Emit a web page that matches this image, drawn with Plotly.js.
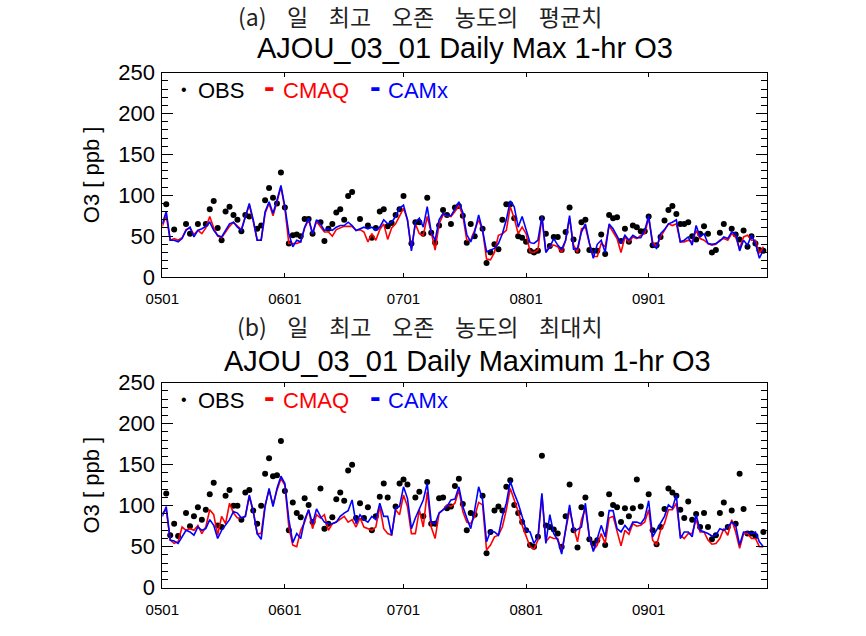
<!DOCTYPE html>
<html>
<head>
<meta charset="utf-8">
<script src="https://cdn.plot.ly/plotly-3.0.1.min.js"></script>
<style>html,body{margin:0;padding:0;background:#fff;}#chart{width:866px;height:636px;}</style>
</head>
<body>
<div id="chart"></div>
<script>
// ---- data (daily, 1 May .. 30 Sep) ----
const startDate = '2015-05-01';
const nDays = 153;
const tickDates = ['2015-05-01','2015-06-01','2015-07-01','2015-08-01','2015-09-01'];
const tickLabels = ['0501','0601','0701','0801','0901'];
const yTicks = [0,50,100,150,200,250];

// (a) Daily max 1-hr O3, averaged
const obsA = [
 null,89,null,58,null,null,65,53,null,65,
 null,65,83,93,60,45,80,86,76,70,
 56,76,74,null,59,63,94,109,97,90,
 128,85,41,51,52,50,71,71,53,null,
 67,44,59,65,79,83,70,99,104,null,
 71,null,63,48,60,80,83,62,66,76,
 83,99,null,41,67,67,53,97,54,42,
 63,82,76,65,85,87,75,42,65,50,
 null,59,17,30,40,34,70,89,89,72,
 50,48,43,32,30,32,72,53,38,49,
 49,33,55,85,46,32,67,70,33,32,
 32,52,28,76,72,73,44,59,43,63,
 61,56,56,74,39,39,49,69,82,87,
 77,65,65,67,50,46,53,62,53,30,
 33,54,65,null,59,52,46,57,37,50,
 41,33,32];
const cmaqA = [
 62,75,45,47,45,48,58,60,52,57,
 53,60,74,60,50,48,55,62,67,62,
 58,74,88,68,45,45,78,90,75,92,
 110,84,41,41,41,43,60,70,53,68,
 62,55,55,50,58,60,62,62,62,57,
 58,55,43,53,45,58,65,46,60,65,
 75,84,70,35,65,53,51,74,55,33,
 65,76,75,74,80,88,75,45,45,58,
 70,57,22,21,30,51,53,57,86,72,
 53,61,53,31,30,33,74,31,37,39,
 37,30,45,72,39,30,59,61,41,25,
 25,41,37,63,55,47,30,49,43,49,
 47,51,53,72,43,37,49,57,65,63,
 65,43,43,45,43,57,47,45,41,39,
 40,45,47,45,53,49,35,49,51,45,
 45,29,37];
const camxA = [
 65,80,45,45,43,47,57,61,49,57,
 59,62,67,57,51,49,57,65,67,61,
 57,74,90,70,45,45,80,92,78,94,
 112,86,53,37,45,43,61,72,53,70,
 65,57,59,57,61,63,63,67,63,57,
 59,61,59,61,57,61,70,65,67,74,
 84,88,70,32,67,72,61,86,55,45,
 70,78,75,75,83,92,79,52,43,55,
 76,57,31,33,35,41,53,70,93,86,
 61,74,57,42,41,45,74,30,37,47,
 39,34,45,75,34,35,55,65,42,23,
 40,45,30,65,59,49,41,51,45,51,
 48,48,57,75,39,35,53,58,65,67,
 70,43,45,49,39,63,49,53,41,40,
 41,44,49,47,55,53,32,45,39,51,
 41,23,33];

// (b) Daily maximum 1-hr O3
const obsB = [
 null,115,64,78,63,null,91,75,87,98,
 83,95,114,128,76,74,112,119,100,100,
 83,116,119,94,78,100,139,158,136,137,
 179,118,70,104,91,86,109,101,80,null,
 121,72,78,86,108,116,106,143,150,85,
 103,85,98,70,87,111,127,110,null,99,
 127,132,126,null,110,117,87,129,78,78,
 109,110,97,99,124,133,102,70,91,89,
 null,112,42,68,94,99,94,123,131,101,
 91,80,70,52,50,62,161,76,74,71,
 66,50,87,126,70,49,98,110,59,54,
 58,90,52,114,101,98,80,97,87,97,
 132,99,null,114,70,53,74,96,121,116,
 112,95,85,105,83,90,74,91,74,59,
 64,91,104,74,94,78,139,96,66,66,
 63,null,68];
const cmaqB = [
 91,95,58,54,56,74,70,72,70,76,
 66,74,95,89,64,87,78,103,91,85,
 85,87,111,93,66,66,101,119,101,119,
 133,125,74,52,50,70,80,95,72,89,
 85,89,70,78,80,83,87,80,83,74,
 85,74,72,70,74,99,72,66,64,95,
 89,113,99,66,66,95,74,117,74,60,
 91,95,101,99,103,119,93,80,78,87,
 104,101,46,52,62,64,74,95,121,107,
 93,76,64,50,47,58,113,56,62,60,
 60,44,70,95,74,56,83,97,62,46,
 52,66,54,85,87,70,51,70,65,78,
 75,76,80,95,58,52,70,78,95,95,
 103,64,60,66,66,83,68,68,58,53,
 54,60,72,64,83,68,48,66,66,60,
 60,50,50];
const camxB = [
 87,99,58,57,54,62,70,68,64,74,
 70,72,83,76,60,70,76,83,93,91,
 85,87,113,93,66,59,99,121,99,121,
 136,127,83,55,66,60,83,95,78,96,
 87,80,78,78,80,87,91,94,107,78,
 89,83,80,87,83,103,87,87,64,97,
 99,123,109,72,85,95,107,127,80,78,
 91,95,99,107,108,123,99,85,72,95,
 123,107,56,69,68,64,87,103,130,115,
 103,87,70,68,54,62,115,54,89,66,
 58,41,72,101,70,71,74,103,62,44,
 60,76,62,94,94,72,68,76,70,80,
 80,78,85,106,62,70,78,87,101,97,
 113,60,68,68,62,89,70,68,66,63,
 64,72,70,74,80,76,52,68,68,66,
 68,56,50];

// dates for the x categories
const dates = [];
{
  const t0 = Date.parse(startDate + 'T00:00:00Z');
  for (let i = 0; i < nDays; i++) dates.push(new Date(t0 + i * 86400000).toISOString().slice(0, 10));
}

const FONT = 'Liberation Sans, Arial, Helvetica, sans-serif';
const KFONT = 'Noto Sans CJK KR, sans-serif';

function obsTrace(y, xa, ya) {
  return {x: dates, y: y, xaxis: xa, yaxis: ya, type: 'scatter', mode: 'markers', name: 'OBS',
    marker: {color: '#000', size: 6}, showlegend: false, cliponaxis: true};
}
function lineTrace(y, name, color, xa, ya) {
  return {x: dates, y: y, xaxis: xa, yaxis: ya, type: 'scatter', mode: 'lines', name: name,
    line: {color: color, width: 1.6}, showlegend: false, connectgaps: true};
}

const data = [
  obsTrace(obsA, 'x', 'y'), lineTrace(cmaqA, 'CMAQ', '#ff0000', 'x', 'y'), lineTrace(camxA, 'CAMx', '#0000ff', 'x', 'y'),
  obsTrace(obsB, 'x2', 'y2'), lineTrace(cmaqB, 'CMAQ', '#ff0000', 'x2', 'y2'), lineTrace(camxB, 'CAMx', '#0000ff', 'x2', 'y2')
];

const W = 866, H = 636;
const px = v => v / W;
const py = v => 1 - v / H;

function xAxis(anchor) {
  return {domain: [px(162.3), px(767.3)], anchor: anchor, type: 'date',
    range: ['2015-05-01', '2015-10-01'], tickvals: tickDates, ticktext: tickLabels,
    ticks: 'inside', ticklen: 4, tickwidth: 1, tickcolor: '#000',
    showline: true, linecolor: '#000', linewidth: 1, mirror: 'ticks',
    showgrid: false, zeroline: false, ticklabelstandoff: 8,
    tickfont: {family: FONT, size: 15, color: '#000'}, automargin: false, fixedrange: true};
}
function yAxis(anchor, top, bottom) {
  return {domain: [py(bottom), py(top)], anchor: anchor, range: [0, 250], tickvals: yTicks,
    ticks: 'inside', ticklen: 11, tickwidth: 1, tickcolor: '#000',
    minor: {ticks: 'inside', ticklen: 6, tickwidth: 1, tickcolor: '#000', dtick: 10, tick0: 0, showgrid: false},
    showline: true, linecolor: '#000', linewidth: 1, mirror: 'ticks',
    showgrid: false, zeroline: false, ticklabelstandoff: 2,
    tickfont: {family: FONT, size: 22, color: '#000'},
    title: {text: 'O3 [ ppb ]', font: {family: FONT, size: 22, color: '#000'}, standoff: 12},
    automargin: false, fixedrange: true};
}

function ann(text, x, y, size, color, family, xanchor) {
  return {text: text, x: px(x), y: py(y), xref: 'paper', yref: 'paper', showarrow: false,
    xanchor: xanchor || 'center', yanchor: 'middle', borderpad: 0,
    font: {family: family || FONT, size: size, color: color || '#000'}};
}
function legendAnns(yc) {
  return [
    ann('•', 184, yc - 1, 16, '#000'),
    ann('OBS', 197, yc, 22, '#000', FONT, 'left'),
    ann('<b>-</b>', 269, yc - 4, 32, '#ff0000'),
    ann('CMAQ', 282, yc, 22, '#ff0000', FONT, 'left'),
    ann('<b>-</b>', 375.5, yc - 4, 32, '#0000ff'),
    ann('CAMx', 387, yc, 22, '#0000ff', FONT, 'left')
  ];
}

const SP = '\u00a0\u00a0\u00a0\u00a0';
const layout = {
  width: W, height: H, margin: {l: 0, r: 0, t: 0, b: 0},
  paper_bgcolor: '#fff', plot_bgcolor: '#fff', showlegend: false,
  font: {family: FONT, color: '#000'},
  xaxis: xAxis('y'), yaxis: yAxis('x', 72.7, 277),
  xaxis2: xAxis('y2'), yaxis2: yAxis('x2', 382.7, 587.7),
  annotations: [
    ann('(a)' + SP + '일' + SP + '최고' + SP + '오존' + SP + '농도의' + SP + '평균치', 420, 16, 23, '#222', KFONT),
    ann('AJOU_03_01 Daily Max 1-hr O3', 465, 48.5, 29, '#000'),
    ann('(b)' + SP + '일' + SP + '최고' + SP + '오존' + SP + '농도의' + SP + '최대치', 420, 326, 23, '#222', KFONT),
    ann('AJOU_03_01 Daily Maximum 1-hr O3', 467.5, 361, 29, '#000')
  ].concat(legendAnns(90.3), legendAnns(400.3))
};

Plotly.newPlot('chart', data, layout, {displayModeBar: false, staticPlot: true});
</script>
</body>
</html>
